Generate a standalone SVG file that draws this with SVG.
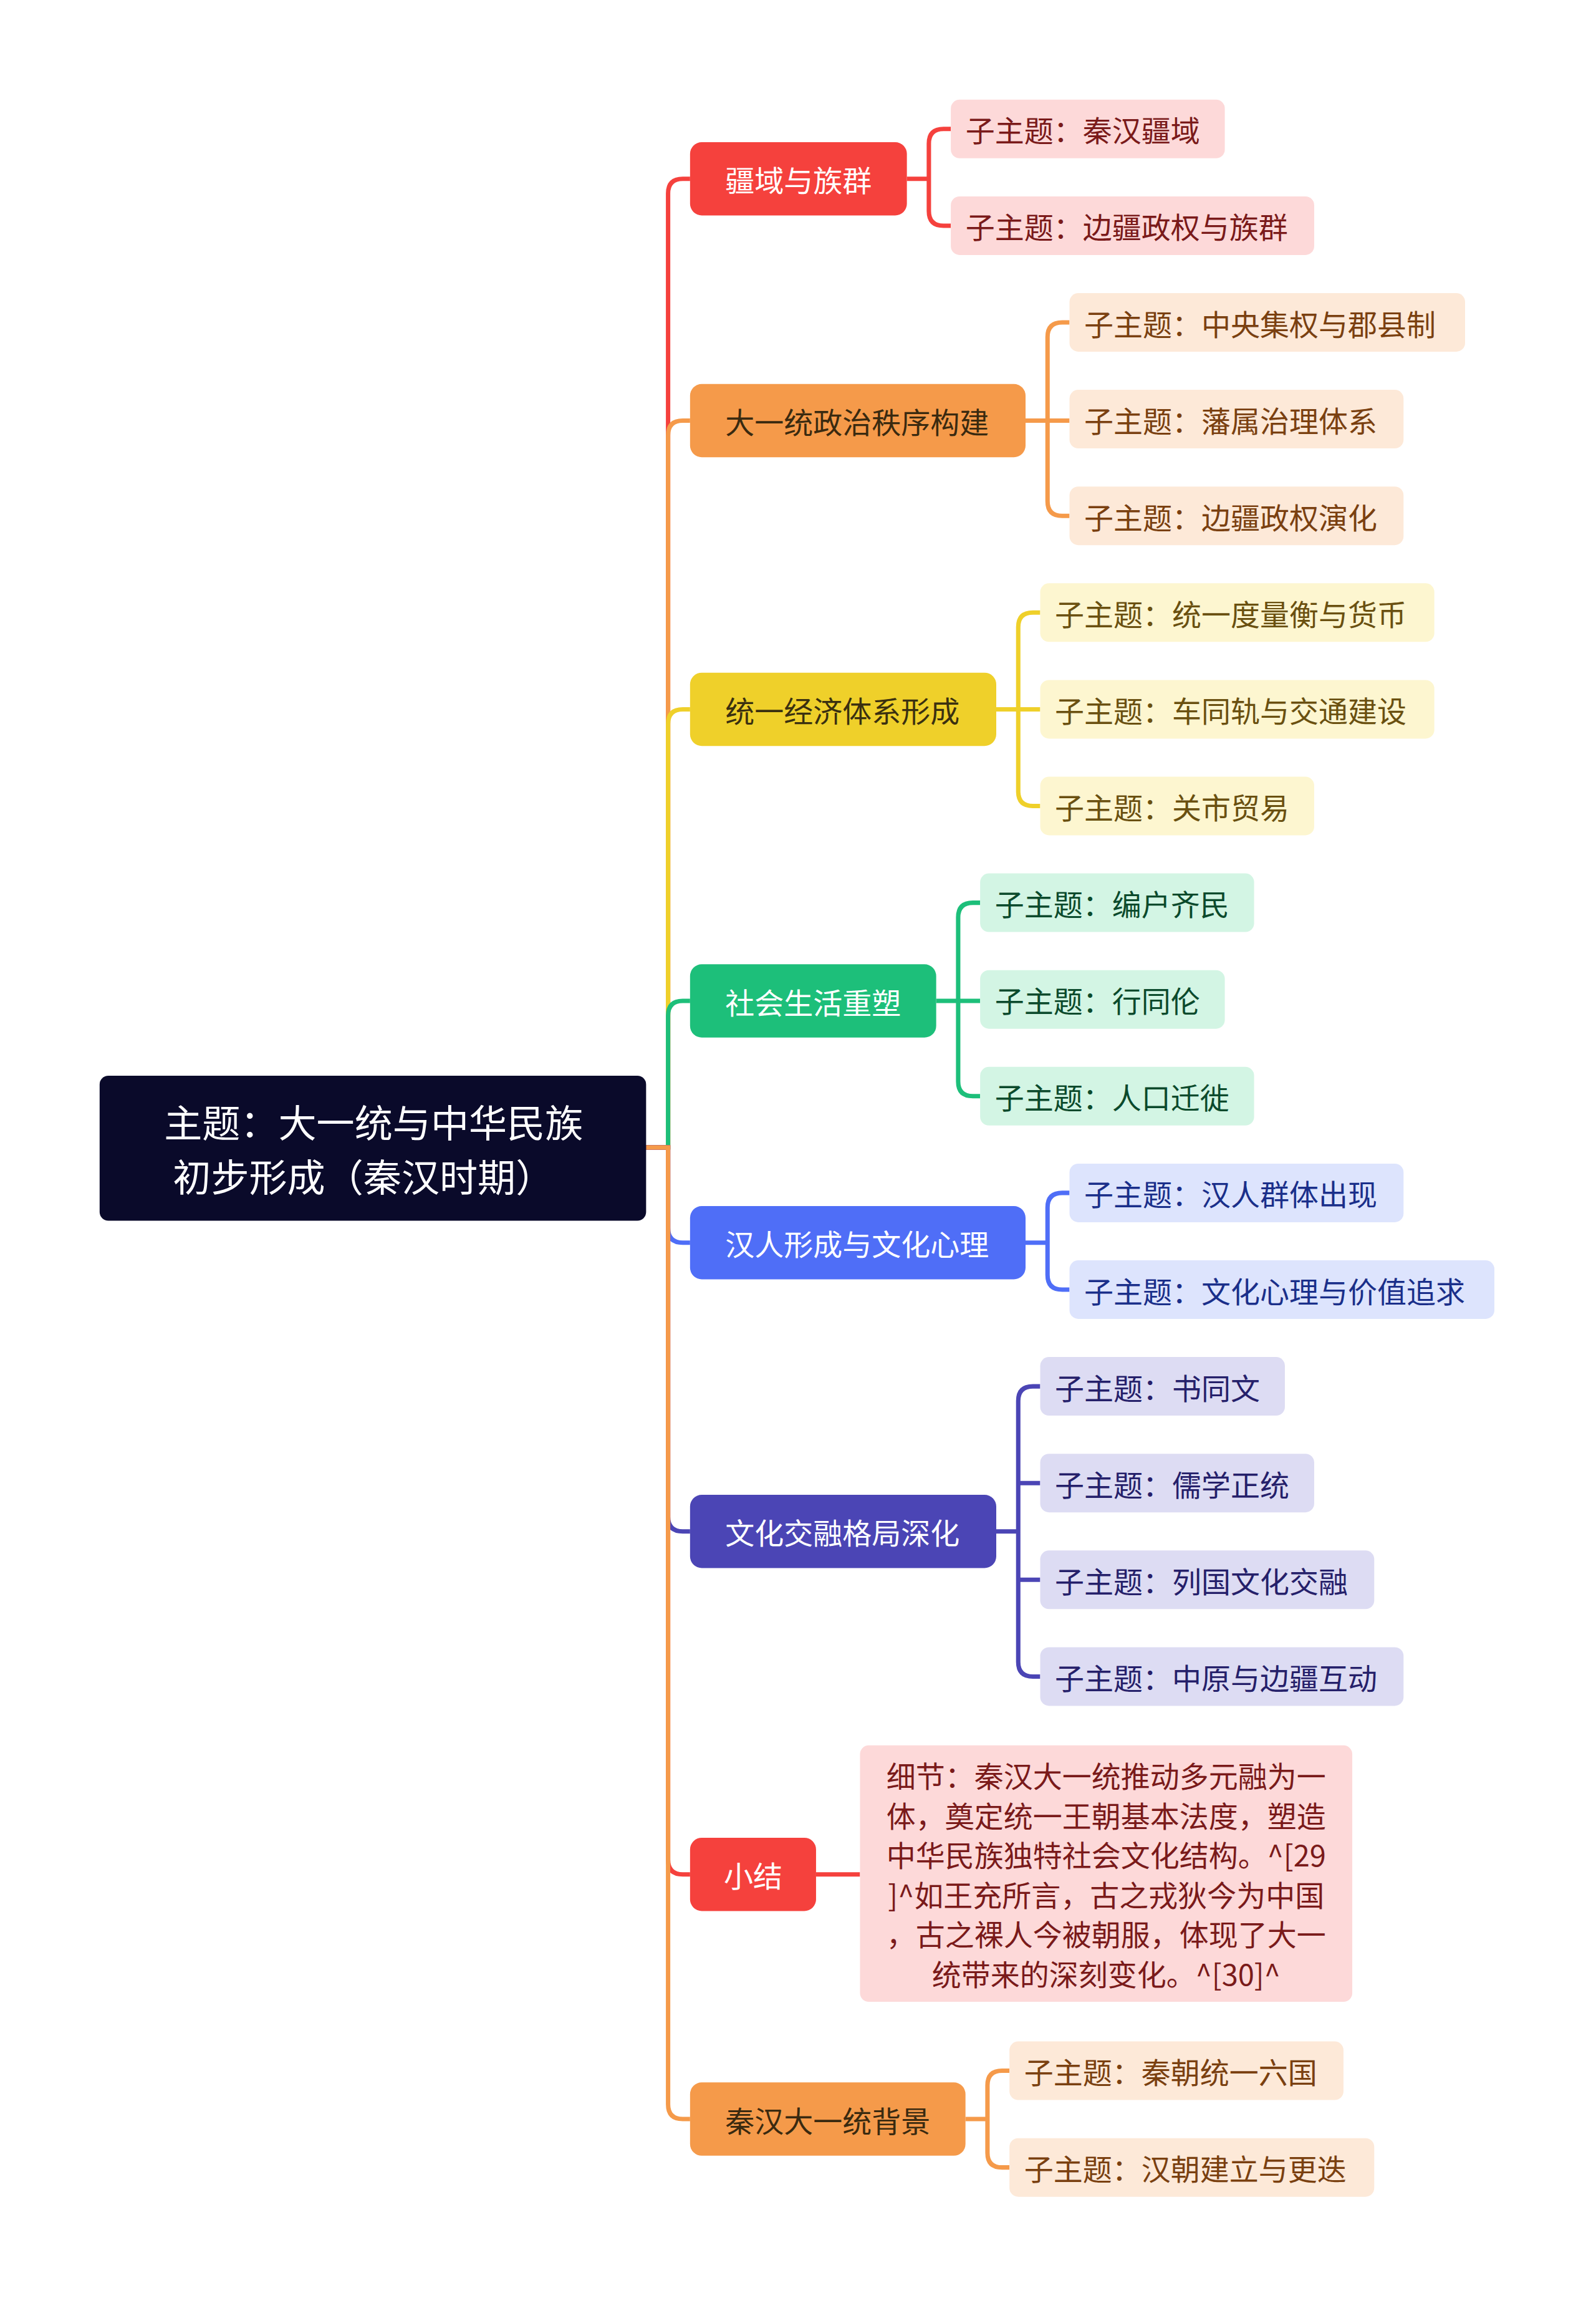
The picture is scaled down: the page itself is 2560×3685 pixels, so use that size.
<svg xmlns="http://www.w3.org/2000/svg" width="2560" height="3685" viewBox="0 0 2560 3685">
<style>
text{font-family:"Noto Sans CJK SC","Noto Sans",sans-serif;font-size:20px;dominant-baseline:central}
.l1{text-anchor:middle}
.sub text{font-size:20px}
path{fill:none;stroke-width:3}
</style>
<rect width="2560" height="3685" fill="#fff"/>
<g transform="scale(2.35)">
<g id="connectors">
<path d="M441,783H456V132Q456,122 466,122H471" stroke="#f5413d"/>
<path d="M441,783H456V297Q456,287 466,287H471" stroke="#f59a4a"/>
<path d="M441,783H456V494Q456,484 466,484H471" stroke="#efd02a"/>
<path d="M441,783H456V693Q456,683 466,683H471" stroke="#1dbf7a"/>
<path d="M441,783H456V838Q456,848 466,848H471" stroke="#4f6ef7"/>
<path d="M441,783H456V1035Q456,1045 466,1045H471" stroke="#4b45b5"/>
<path d="M441,783H456V1269Q456,1279 466,1279H471" stroke="#f5413d"/>
<path d="M441,783H456V1436Q456,1446 466,1446H471" stroke="#f59a4a"/>
<g stroke="#f5413d"><path d="M619,122H634M634,122V98Q634,88 644,88H649M634,122V144Q634,154 644,154H649"/><path d="M557,1279H587"/></g>
<g stroke="#f59a4a"><path d="M700,287H715M715,287V230Q715,220 725,220H730M715,287H730M715,287V342Q715,352 725,352H730"/>
<path d="M659,1446H674M674,1446V1423Q674,1413 684,1413H689M674,1446V1469Q674,1479 684,1479H689"/></g>
<g stroke="#efd02a"><path d="M680,484H695M695,484V428Q695,418 705,418H710M695,484H710M695,484V540Q695,550 705,550H710"/></g>
<g stroke="#1dbf7a"><path d="M639,683H654M654,683V626Q654,616 664,616H669M654,683H669M654,683V738Q654,748 664,748H669"/></g>
<g stroke="#4f6ef7"><path d="M700,848H715M715,848V824Q715,814 725,814H730M715,848V870Q715,880 725,880H730"/></g>
<g stroke="#4b45b5"><path d="M680,1045H695M695,1045V956Q695,946 705,946H710M695,1012H710M695,1078H710M695,1045V1134Q695,1144 705,1144H710"/></g>
</g>
<g id="root"><rect x="68" y="734" width="373" height="99" rx="6" fill="#0a0a2a"/>
<text x="255" y="765" class="l1" fill="#fff" style="font-size:26px">主题：大一统与中华民族</text>
<text x="248" y="802" class="l1" fill="#fff" style="font-size:26px">初步形成（秦汉时期）</text></g>
<g id="b1"><rect x="471" y="97" width="148" height="50" rx="8" fill="#f5413d"/><text x="545" y="122" class="l1" fill="#fff">疆域与族群</text></g>
<g id="b2"><rect x="471" y="262" width="229" height="50" rx="8" fill="#f59a4a"/><text x="585" y="287" class="l1" fill="#3a2a10">大一统政治秩序构建</text></g>
<g id="b3"><rect x="471" y="459" width="209" height="50" rx="8" fill="#efd02a"/><text x="575" y="484" class="l1" fill="#3a3010">统一经济体系形成</text></g>
<g id="b4"><rect x="471" y="658" width="168" height="50" rx="8" fill="#1dbf7a"/><text x="555" y="683" class="l1" fill="#fff">社会生活重塑</text></g>
<g id="b5"><rect x="471" y="823" width="229" height="50" rx="8" fill="#4f6ef7"/><text x="585" y="848" class="l1" fill="#fff">汉人形成与文化心理</text></g>
<g id="b6"><rect x="471" y="1020" width="209" height="50" rx="8" fill="#4b45b5"/><text x="575" y="1045" class="l1" fill="#fff">文化交融格局深化</text></g>
<g id="b7"><rect x="471" y="1254" width="86" height="50" rx="8" fill="#f5413d"/><text x="514" y="1279" class="l1" fill="#fff">小结</text></g>
<g id="b8"><rect x="471" y="1421" width="188" height="50" rx="8" fill="#f59a4a"/><text x="565" y="1446" class="l1" fill="#3a2a10">秦汉大一统背景</text></g>
<g class="sub">
<g id="s1a"><rect x="649" y="68" width="187" height="40" rx="6" fill="#fdd9d9"/><text x="659" y="88" fill="#7a1a1a">子主题：秦汉疆域</text></g>
<g id="s1b"><rect x="649" y="134" width="248" height="40" rx="6" fill="#fdd9d9"/><text x="659" y="154" fill="#7a1a1a">子主题：边疆政权与族群</text></g>
<g id="s2a"><rect x="730" y="200" width="270" height="40" rx="6" fill="#fde9d8"/><text x="740" y="220" fill="#7a4010">子主题：中央集权与郡县制</text></g>
<g id="s2b"><rect x="730" y="266" width="228" height="40" rx="6" fill="#fde9d8"/><text x="740" y="286" fill="#7a4010">子主题：藩属治理体系</text></g>
<g id="s2c"><rect x="730" y="332" width="228" height="40" rx="6" fill="#fde9d8"/><text x="740" y="352" fill="#7a4010">子主题：边疆政权演化</text></g>
<g id="s3a"><rect x="710" y="398" width="269" height="40" rx="6" fill="#fdf6d0"/><text x="720" y="418" fill="#6a5010">子主题：统一度量衡与货币</text></g>
<g id="s3b"><rect x="710" y="464" width="269" height="40" rx="6" fill="#fdf6d0"/><text x="720" y="484" fill="#6a5010">子主题：车同轨与交通建设</text></g>
<g id="s3c"><rect x="710" y="530" width="187" height="40" rx="6" fill="#fdf6d0"/><text x="720" y="550" fill="#6a5010">子主题：关市贸易</text></g>
<g id="s4a"><rect x="669" y="596" width="187" height="40" rx="6" fill="#d3f5e4"/><text x="679" y="616" fill="#0b4a2c">子主题：编户齐民</text></g>
<g id="s4b"><rect x="669" y="662" width="167" height="40" rx="6" fill="#d3f5e4"/><text x="679" y="682" fill="#0b4a2c">子主题：行同伦</text></g>
<g id="s4c"><rect x="669" y="728" width="187" height="40" rx="6" fill="#d3f5e4"/><text x="679" y="748" fill="#0b4a2c">子主题：人口迁徙</text></g>
<g id="s5a"><rect x="730" y="794" width="228" height="40" rx="6" fill="#dde4fd"/><text x="740" y="814" fill="#1a2f8a">子主题：汉人群体出现</text></g>
<g id="s5b"><rect x="730" y="860" width="290" height="40" rx="6" fill="#dde4fd"/><text x="740" y="880" fill="#1a2f8a">子主题：文化心理与价值追求</text></g>
<g id="s6a"><rect x="710" y="926" width="167" height="40" rx="6" fill="#dddcf3"/><text x="720" y="946" fill="#25206a">子主题：书同文</text></g>
<g id="s6b"><rect x="710" y="992" width="187" height="40" rx="6" fill="#dddcf3"/><text x="720" y="1012" fill="#25206a">子主题：儒学正统</text></g>
<g id="s6c"><rect x="710" y="1058" width="228" height="40" rx="6" fill="#dddcf3"/><text x="720" y="1078" fill="#25206a">子主题：列国文化交融</text></g>
<g id="s6d"><rect x="710" y="1124" width="248" height="40" rx="6" fill="#dddcf3"/><text x="720" y="1144" fill="#25206a">子主题：中原与边疆互动</text></g>
<g id="s7"><rect x="587" y="1191" width="336" height="175" rx="6" fill="#fdd9d9"/>
<g fill="#7a1a1a">
<text x="755" y="1211" class="l1">细节：秦汉大一统推动多元融为一</text>
<text x="755" y="1238" class="l1">体，奠定统一王朝基本法度，塑造</text>
<text x="755" y="1265" class="l1">中华民族独特社会文化结构。^[29</text>
<text x="755" y="1292" class="l1">]^如王充所言，古之戎狄今为中国</text>
<text x="755" y="1319" class="l1">，古之裸人今被朝服，体现了大一</text>
<text x="755" y="1346" class="l1">统带来的深刻变化。^[30]^</text></g></g>
<g id="s8a"><rect x="689" y="1393" width="228" height="40" rx="6" fill="#fde9d8"/><text x="699" y="1413" fill="#7a4010">子主题：秦朝统一六国</text></g>
<g id="s8b"><rect x="689" y="1459" width="249" height="40" rx="6" fill="#fde9d8"/><text x="699" y="1479" fill="#7a4010">子主题：汉朝建立与更迭</text></g>
</g>
</g>
</svg>
